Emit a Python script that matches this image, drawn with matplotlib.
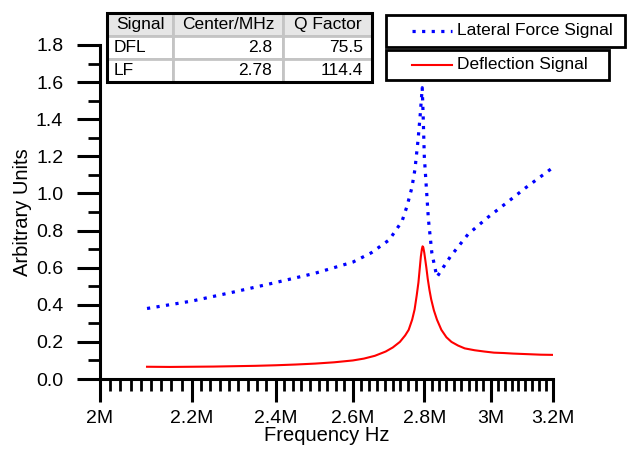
import numpy as np
import matplotlib
matplotlib.use("Agg")
import matplotlib.pyplot as plt
from matplotlib.ticker import FixedLocator, NullFormatter
from matplotlib.lines import Line2D

plt.rcParams['font.family'] = ['Liberation Sans', 'DejaVu Sans']

# Lateral force signal (blue dotted), frequency in MHz
freq_lf = [2.10, 2.20, 2.30, 2.40, 2.50, 2.60, 2.65, 2.70, 2.736, 2.75, 2.764,
           2.773, 2.782, 2.788, 2.794, 2.797, 2.800, 2.806, 2.812, 2.822, 2.831,
           2.837, 2.855, 2.877, 2.93, 2.99, 3.05, 3.11, 3.20]
amp_lf = [0.38, 0.42, 0.47, 0.52, 0.57, 0.63, 0.68, 0.75, 0.85, 0.93, 1.03,
          1.13, 1.29, 1.42, 1.57, 1.40, 1.20, 1.03, 0.86, 0.68, 0.60,
          0.55, 0.60, 0.66, 0.78, 0.87, 0.95, 1.03, 1.14]

# Deflection signal (red solid), frequency in MHz
freq_dfl = [2.10, 2.15, 2.20, 2.25, 2.30, 2.35, 2.40, 2.45, 2.50, 2.55, 2.60,
            2.63, 2.66, 2.69, 2.71, 2.73, 2.745, 2.755, 2.765, 2.772, 2.778,
            2.783, 2.787, 2.790, 2.793, 2.795, 2.797, 2.800, 2.803, 2.806,
            2.810, 2.815, 2.820, 2.828, 2.837, 2.850, 2.865, 2.88, 2.90, 2.92,
            2.95, 2.98, 3.01, 3.04, 3.07, 3.10, 3.13, 3.16, 3.20]
amp_dfl = [0.066, 0.065, 0.066, 0.067, 0.069, 0.071, 0.074, 0.078, 0.083, 0.090, 0.100,
           0.110, 0.125, 0.148, 0.170, 0.200, 0.235, 0.265, 0.320, 0.375, 0.450,
           0.520, 0.600, 0.660, 0.700, 0.715, 0.710, 0.680, 0.640, 0.600,
           0.540, 0.480, 0.430, 0.370, 0.320, 0.265, 0.225, 0.200, 0.180, 0.165,
           0.155, 0.148, 0.142, 0.140, 0.137, 0.135, 0.133, 0.131, 0.130]

# table contents
tabla_cols = ["Signal", "Center/MHz", "Q Factor"]
tabla_filas = [["DFL", "2.8", "75.5"],
               ["LF", "2.78", "114.4"]]

x_ticks = [2.0, 2.2, 2.4, 2.6, 2.8, 3.0, 3.2]
x_labels = ["2M", "2.2M", "2.4M", "2.6M", "2.8M", "3M", "3.2M"]

PUNTEADO = (0, (1.0, 2.0))

fig = plt.figure(figsize=(6.27, 4.49), dpi=100)
ax = fig.add_axes([100/627, 1-379/449, 453/627, 334/449])

ax.plot(np.array(freq_lf)*1e6, amp_lf, color="blue", lw=2.3, linestyle=PUNTEADO)
ax.plot(np.array(freq_dfl)*1e6, amp_dfl, color="red", lw=1.5)

ax.set_xscale("log")
ax.set_xlim(2e6, 3.2e6)
ax.set_ylim(0, 1.8)
ax.xaxis.set_major_locator(FixedLocator([v*1e6 for v in x_ticks]))
ax.set_xticklabels(x_labels)
# 8 minor ticks between majors
menores = []
for a, b in zip(x_ticks[:-1], x_ticks[1:]):
    menores += list(np.geomspace(a*1e6, b*1e6, 10)[1:-1])
ax.xaxis.set_minor_locator(FixedLocator(menores))
ax.xaxis.set_minor_formatter(NullFormatter())
ax.set_yticks(np.arange(0, 1.81, 0.2))
ax.set_yticklabels([f"{v:.1f}" for v in np.arange(0, 1.81, 0.2)])
ax.set_yticks(np.arange(0.1, 1.8, 0.2), minor=True)

for s in ["top", "right"]:
    ax.spines[s].set_visible(False)
for s in ["left", "bottom"]:
    ax.spines[s].set_linewidth(2.2)

ax.tick_params(which="major", direction="out", length=16.5, width=2.2, labelsize=14)
ax.tick_params(axis="x", which="major", pad=6)
ax.tick_params(axis="y", which="major", pad=10)
ax.tick_params(which="minor", direction="out", length=8.5, width=2.0)
ax.set_xlabel("Frequency Hz", fontsize=14.5, labelpad=-1)
ax.set_ylabel("Arbitrary Units", fontsize=14.5, labelpad=3)

# legend boxes, drawn by hand (two separate frames)
def caja_leyenda(x0, y0, x1, y1, estilo, color, lw, texto):
    fig.add_artist(plt.Rectangle((x0/627, 1-y1/449), (x1-x0)/627, (y1-y0)/449,
                                 transform=fig.transFigure, fill=True, facecolor="white",
                                 edgecolor="black", lw=2))
    ym = 1-(y0+y1)/2/449
    fig.add_artist(Line2D([(x0+26)/627, (x0+66)/627], [ym, ym], transform=fig.transFigure,
                          color=color, lw=lw, linestyle=estilo))
    fig.text((x0+71)/627, ym, texto, fontsize=12.5, va="center", ha="left")

caja_leyenda(386, 15, 625, 47, PUNTEADO, "blue", 2.3, "Lateral Force Signal")
caja_leyenda(386, 50, 609, 80, "-", "red", 1.5, "Deflection Signal")

# table
tax = fig.add_axes([107/627, 1-82/449, 265/627, 69/449])
tax.axis("off")
tabla = tax.table(cellText=tabla_filas, colLabels=tabla_cols, bbox=[0, 0, 1, 1],
                  colWidths=[66, 110, 89])
tabla.auto_set_font_size(False)
for (r, c), cell in tabla.get_celld().items():
    cell.set_edgecolor("#c4c4c4")
    cell.set_linewidth(2)
    cell.get_text().set_fontsize(12.5)
    if r == 0:
        cell.set_facecolor("#e6e6e6")
        cell.get_text().set_ha("center")
    elif c == 0:
        cell._loc = "left"
        cell.get_text().set_ha("left")
    else:
        cell._loc = "right"
        cell.get_text().set_ha("right")
tax.add_patch(plt.Rectangle((0, 0), 1, 1, transform=tax.transAxes, fill=False,
                            edgecolor="black", lw=2.2, clip_on=False))

fig.savefig("out.png", dpi=100)
